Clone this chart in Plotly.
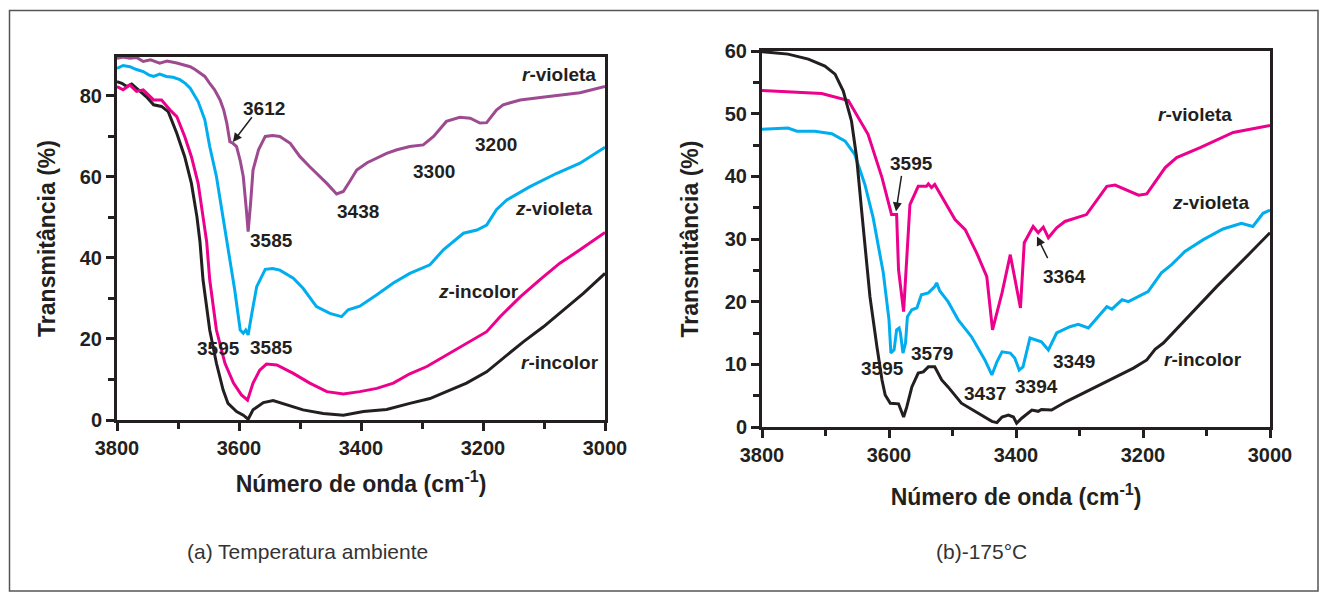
import plotly.graph_objects as go

# ---------------- Data: (a) Temperatura ambiente ----------------
a_rviol_x = [3800, 3790, 3779, 3768, 3757, 3745, 3730, 3718, 3702, 3690, 3680, 3672, 3664, 3656, 3648, 3640, 3631,
             3625, 3620, 3615, 3610, 3604, 3598, 3593, 3588, 3585, 3581, 3577, 3568, 3557, 3545, 3533, 3516, 3500,
             3484, 3470, 3456, 3440, 3429, 3418, 3407, 3390, 3374, 3358, 3341, 3320, 3298, 3281, 3260, 3238, 3221,
             3205, 3194, 3178, 3167, 3139, 3096, 3041, 3000]
a_rviol_y = [89.3, 89.6, 89.3, 89.5, 88.5, 88.9, 88.1, 88.6, 88.1, 87.6, 87.2, 86.5, 85.6, 84.8, 83.1, 81.5, 79.0,
             76.5, 73.3, 68.7, 68.3, 67.5, 64.0, 60.1, 52.0, 46.5, 53.5, 61.7, 66.7, 70.0, 70.2, 70.0, 68.3, 65.0,
             62.5, 60.5, 58.4, 55.8, 56.4, 59.0, 61.7, 63.5, 64.6, 65.8, 66.7, 67.5, 67.9, 70.0, 73.7, 74.7, 74.5,
             73.3, 73.4, 76.5, 77.8, 79.0, 79.8, 80.8, 82.3]

a_zviol_x = [3800, 3790, 3779, 3768, 3757, 3748, 3740, 3730, 3719, 3708, 3697, 3688, 3680, 3667, 3656, 3648, 3637,
             3626, 3618, 3607, 3598, 3593, 3589, 3585, 3579, 3571, 3557, 3545, 3533, 3511, 3495, 3473, 3451, 3432,
             3421, 3402, 3374, 3347, 3320, 3298, 3287, 3265, 3232, 3210, 3194, 3178, 3161, 3123, 3079, 3041, 3000]
a_zviol_y = [86.8, 87.5, 87.2, 86.5, 86.0, 85.2, 84.8, 85.4, 84.8, 84.6, 84.0, 83.1, 81.9, 78.6, 74.1, 67.5, 60.1,
             50.2, 42.5, 32.1, 22.2, 21.4, 22.2, 21.0, 26.3, 32.9, 37.2, 37.4, 37.0, 35.0, 32.5, 28.0, 26.3, 25.5,
             27.2, 28.1, 30.9, 33.8, 36.2, 37.5, 38.3, 42.0, 46.1, 46.9, 48.1, 51.9, 54.3, 57.6, 60.9, 63.4, 67.3]

a_zinc_x = [3800, 3790, 3779, 3768, 3757, 3748, 3740, 3727, 3713, 3702, 3689, 3678, 3667, 3659, 3653, 3648, 3637,
            3623, 3609, 3596, 3586, 3577, 3566, 3555, 3538, 3511, 3484, 3456, 3429, 3402, 3374, 3347, 3320, 3292,
            3260, 3227, 3194, 3172, 3139, 3107, 3074, 3041, 3019, 3000]
a_zinc_y = [82.3, 81.5, 82.7, 81.1, 81.5, 80.2, 79.0, 79.0, 76.5, 74.9, 70.0, 65.0, 58.4, 50.2, 44.0, 34.6, 22.2,
            14.0, 9.1, 6.2, 4.9, 9.1, 12.3, 13.8, 13.6, 11.5, 9.1, 7.0, 6.4, 7.0, 7.8, 9.1, 11.4, 13.2,
            16.0, 18.9, 21.8, 25.5, 30.4, 34.6, 38.7, 42.0, 44.4, 46.3]

a_rinc_x = [3800, 3792, 3784, 3776, 3762, 3750, 3740, 3727, 3716, 3702, 3689, 3678, 3669, 3664, 3659, 3648, 3637,
            3626, 3618, 3604, 3593, 3585, 3577, 3560, 3544, 3522, 3495, 3462, 3429, 3396, 3358, 3320, 3287, 3260,
            3227, 3194, 3167, 3134, 3101, 3068, 3035, 3000]
a_rinc_y = [83.5, 83.1, 82.3, 82.9, 81.1, 79.5, 77.8, 77.4, 76.1, 70.8, 65.0, 58.4, 50.2, 44.0, 34.6, 22.2, 14.0,
            7.4, 4.1, 2.1, 1.2, 0.2, 2.5, 4.3, 4.8, 3.7, 2.5, 1.6, 1.2, 2.1, 2.6, 4.1, 5.3, 7.0,
            9.1, 11.9, 15.2, 19.3, 23.0, 27.2, 31.3, 36.2]

# ---------------- Data: (b) -175 °C ----------------
b_rinc_x = [3800, 3759, 3727, 3701, 3685, 3672, 3659, 3651, 3643, 3630, 3619, 3611, 3606, 3598, 3585, 3577, 3572,
            3564, 3554, 3546, 3538, 3528, 3517, 3507, 3486, 3465, 3438, 3430, 3422, 3412, 3404, 3399, 3391, 3375,
            3365, 3360, 3344, 3320, 3268, 3215, 3194, 3181, 3168, 3136, 3084, 3031, 3000]
b_rinc_y = [59.9, 59.5, 58.7, 57.6, 56.3, 53.6, 48.8, 43.0, 34.4, 20.8, 12.8, 7.5, 5.1, 3.8, 3.7, 1.6, 3.2,
            6.4, 8.6, 8.8, 9.6, 9.6, 7.5, 6.4, 3.8, 2.5, 0.9, 0.7, 1.6, 1.9, 1.6, 0.6, 1.4, 2.7,
            2.5, 2.8, 2.7, 4.1, 6.7, 9.4, 10.7, 12.4, 13.4, 16.8, 22.4, 27.8, 31.0]

b_rviol_x = [3800, 3759, 3706, 3664, 3633, 3611, 3596, 3588, 3585, 3577, 3572, 3567, 3554, 3541, 3538, 3533, 3528,
             3512, 3496, 3480, 3462, 3446, 3437, 3422, 3409, 3393, 3387, 3373, 3365, 3357, 3349, 3336, 3323, 3289,
             3257, 3244, 3207, 3194, 3165, 3147, 3110, 3058, 3000]
b_rviol_y = [53.7, 53.5, 53.2, 52.1, 46.7, 39.8, 33.9, 33.9, 25.1, 18.4, 26.2, 35.5, 38.4, 38.4, 38.8, 38.2, 38.7,
             36.0, 33.1, 31.5, 27.8, 24.0, 15.5, 21.4, 27.5, 19.0, 29.4, 32.0, 31.0, 31.9, 30.2, 31.8, 32.8, 33.9,
             38.4, 38.6, 37.0, 37.2, 41.4, 43.0, 44.6, 47.0, 48.1]

b_zviol_x = [3800, 3759, 3745, 3717, 3690, 3669, 3654, 3638, 3625, 3609, 3600, 3597, 3592, 3588, 3584, 3582, 3578,
             3574, 3571, 3564, 3556, 3549, 3538, 3528, 3525, 3520, 3507, 3491, 3470, 3449, 3438, 3430, 3422, 3409,
             3402, 3395, 3389, 3378, 3360, 3349, 3336, 3315, 3302, 3286, 3257, 3249, 3233, 3223, 3192, 3171, 3155,
             3134, 3105, 3074, 3045, 3027, 3011, 3000]
b_zviol_y = [47.5, 47.7, 47.2, 47.2, 46.8, 45.6, 43.5, 38.7, 33.4, 24.6, 17.1, 11.8, 12.3, 15.5, 15.8, 15.0, 11.8,
             13.4, 17.6, 18.7, 19.0, 21.1, 21.4, 22.4, 23.0, 21.7, 20.0, 17.1, 14.4, 10.7, 8.3, 10.4, 12.0, 11.8,
             11.0, 9.1, 9.6, 14.2, 13.6, 12.3, 15.0, 16.0, 16.4, 15.8, 19.2, 18.8, 20.3, 20.0, 21.6, 24.6, 25.9,
             28.0, 29.9, 31.6, 32.5, 32.0, 34.1, 34.6]

# Label lists
a_peak_labels = ["3612", "3585", "3438", "3300", "3200", "3595", "3585"]
a_peak_pos = [(3559, 77.0), (3546, 44.3), (3405, 51.4), (3281, 61.3), (3178, 67.9), (3634, 17.7), (3546, 17.9)]
b_peak_labels = ["3595", "3364", "3349", "3394", "3437", "3595", "3579"]
b_peak_pos = [(3564, 42.0), (3323, 24.0), (3309, 10.4), (3367, 6.4), (3449, 5.4), (3611, 9.4), (3533, 11.8)]

PURPLE = "#9E4A90"
CYAN = "#00AEEF"
MAGENTA = "#EC008C"
BLACK = "#231F20"
TXT = "#231F20"
FONT = "Liberation Sans, Arial, sans-serif"

fig = go.Figure()
LW = 3
for xs, ys, c in [(a_rinc_x, a_rinc_y, BLACK), (a_zinc_x, a_zinc_y, MAGENTA),
                  (a_zviol_x, a_zviol_y, CYAN), (a_rviol_x, a_rviol_y, PURPLE)]:
    fig.add_trace(go.Scatter(x=xs, y=ys, mode="lines", line=dict(color=c, width=LW),
                             xaxis="x", yaxis="y", showlegend=False, hoverinfo="skip"))
for xs, ys, c in [(b_zviol_x, b_zviol_y, CYAN), (b_rviol_x, b_rviol_y, MAGENTA),
                  (b_rinc_x, b_rinc_y, BLACK)]:
    fig.add_trace(go.Scatter(x=xs, y=ys, mode="lines", line=dict(color=c, width=LW),
                             xaxis="x2", yaxis="y2", showlegend=False, hoverinfo="skip"))

W, H = 1327, 596
tickfont = dict(family=FONT, size=20, color=TXT)
titlefont = dict(family=FONT, size=23, color=TXT)


def xax(domain, anchor, standoff):
    return dict(domain=domain, anchor=anchor, range=[3800, 3000], tickvals=[3800, 3600, 3400, 3200, 3000],
                ticktext=["<b>3800</b>", "<b>3600</b>", "<b>3400</b>", "<b>3200</b>", "<b>3000</b>"],
                ticks="outside", ticklen=8, tickwidth=3, tickcolor=BLACK,
                minor=dict(tickvals=[3700, 3500, 3300, 3100], ticks="outside", ticklen=6, tickwidth=3, tickcolor=BLACK),
                showline=True, linewidth=3, linecolor=BLACK, mirror=True, showgrid=False, zeroline=False,
                tickfont=tickfont, automargin=False,
                title=dict(text="<b>Número de onda (cm<sup>-1</sup>)</b>", font=titlefont, standoff=standoff))


def yax(domain, anchor, rng, dtick, minor_dtick, standoff):
    vals = list(range(0, int(rng[1]) + 1, dtick))
    return dict(domain=domain, anchor=anchor, range=rng, tickvals=vals, ticktext=["<b>%d</b>" % v for v in vals],
                ticks="outside", ticklen=8, tickwidth=3, tickcolor=BLACK,
                minor=dict(dtick=minor_dtick, ticks="outside", ticklen=6, tickwidth=3, tickcolor=BLACK),
                showline=True, linewidth=3, linecolor=BLACK, mirror=True, showgrid=False, zeroline=False,
                tickfont=tickfont, automargin=False,
                title=dict(text="<b>Transmitância (%)</b>", font=titlefont, standoff=standoff))


fig.update_layout(
    width=W, height=H, margin=dict(l=0, r=0, t=0, b=0),
    paper_bgcolor="white", plot_bgcolor="white",
    xaxis=xax([117 / W, 605 / W], "y", 18),
    yaxis=yax([1 - 420 / H, 1 - 57 / H], "x", [0, 89.6], 20, 10, 18),
    xaxis2=xax([762 / W, 1270 / W], "y2", 24),
    yaxis2=yax([1 - 427 / H, 1 - 51 / H], "x2", [0, 60], 10, 5, 20),
    font=dict(family=FONT, color=TXT),
)

ann = []
bfont = dict(family=FONT, size=19, color=TXT)
for t, (x, y) in zip(a_peak_labels, a_peak_pos):
    ann.append(dict(x=x, y=y, xref="x", yref="y", text="<b>%s</b>" % t, showarrow=False, font=bfont))
for t, (x, y) in zip(b_peak_labels, b_peak_pos):
    ann.append(dict(x=x, y=y, xref="x2", yref="y2", text="<b>%s</b>" % t, showarrow=False, font=bfont))

# series labels
for text, x, y, xr, yr in [("<i>r</i>-violeta", 3075, 85.4, "x", "y"), ("<i>z</i>-violeta", 3085, 52.3, "x", "y"),
                           ("<i>z</i>-incolor", 3208, 31.7, "x", "y"), ("<i>r</i>-incolor", 3074, 14.1, "x", "y"),
                           ("<i>r</i>-violeta", 3118, 49.8, "x2", "y2"), ("<i>z</i>-violeta", 3094, 35.9, "x2", "y2"),
                           ("<i>r</i>-incolor", 3105, 10.8, "x2", "y2")]:
    ann.append(dict(x=x, y=y, xref=xr, yref=yr, text="<b>%s</b>" % text, showarrow=False, font=bfont))

# arrows
for (hx, hy, tx, ty, xr, yr) in [(3610, 68.6, 3577, 75.1, "x", "y"), (3589, 34.4, 3580, 40.3, "x2", "y2"),
                                 (3367, 30.4, 3349, 26.7, "x2", "y2")]:
    ann.append(dict(x=hx, y=hy, ax=tx, ay=ty, xref=xr, yref=yr, axref=xr, ayref=yr, text="",
                    showarrow=True, arrowhead=2, arrowsize=1.2, arrowwidth=1.5, arrowcolor=BLACK))

# captions
cfont = dict(family=FONT, size=21, color="#333333")
ann.append(dict(x=307 / W, y=1 - 551 / H, xref="paper", yref="paper", xanchor="center", yanchor="middle",
                text="(a) Temperatura ambiente", showarrow=False, font=cfont))
ann.append(dict(x=981 / W, y=1 - 551 / H, xref="paper", yref="paper", xanchor="center", yanchor="middle",
                text="(b)-175°C", showarrow=False, font=cfont))
fig.update_layout(annotations=ann)

fig.add_shape(type="rect", xref="paper", yref="paper", x0=9.5 / W, x1=1318 / W, y0=1 - 591 / H, y1=1 - 10.5 / H,
              line=dict(color="#555555", width=1.5), fillcolor="rgba(0,0,0,0)", layer="below")

fig.write_html("out.html", config={"responsive": False, "displayModeBar": False},
               post_script="document.body.style.margin='0';document.body.style.overflow='hidden';")
